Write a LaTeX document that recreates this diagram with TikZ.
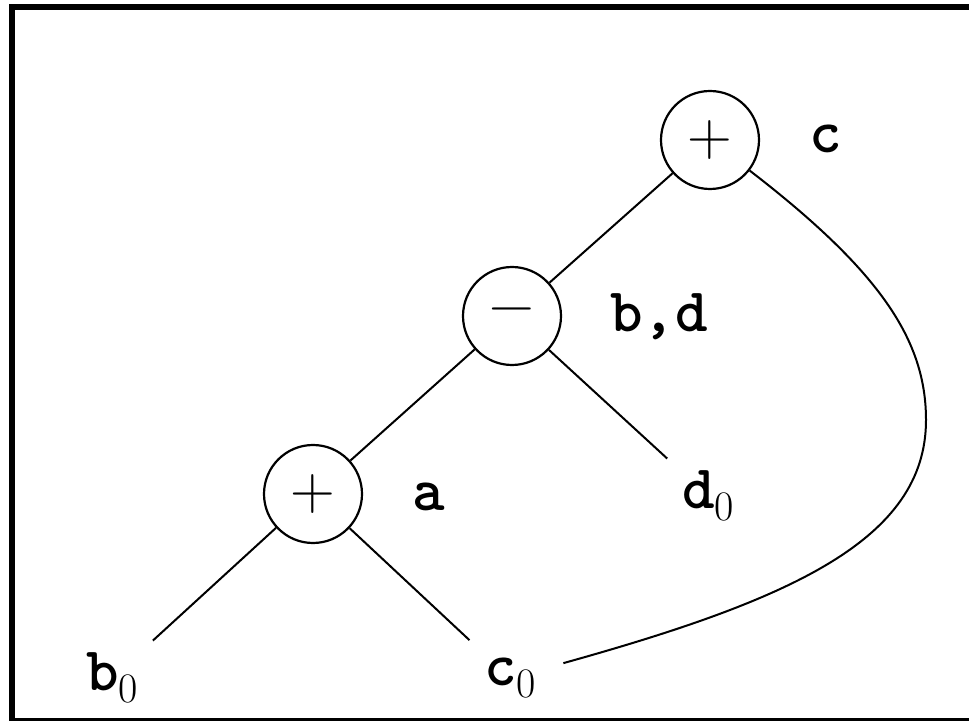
\documentclass[tikz,border=0pt]{standalone}
\begin{document}
\begin{tikzpicture}[x=0.5pt,y=-0.5pt,
  opnode/.style={circle,draw,line width=1.1pt,minimum size=49pt,inner sep=0pt,
    font=\fontsize{31}{37}\selectfont\rmfamily},
  leaf/.style={circle,inner sep=0pt,minimum size=55pt,
    font=\fontsize{31}{37}\selectfont\ttfamily\bfseries},
  tag/.style={anchor=base,inner sep=0pt,font=\fontsize{31}{37}\selectfont\ttfamily\bfseries}, 
  edge/.style={line width=1pt}]
\newcommand\subzero{\raisebox{-6pt}{\fontsize{21}{25}\selectfont\rmfamily\mdseries 0}}
\useasboundingbox (0,0) rectangle (969,721);

% frame
\fill (9,4) rectangle (969,10);
\fill (9,4) rectangle (15,721);
\fill (9,718) rectangle (969,721);

% operator nodes
\node[opnode] (pt) at (710,140) {+};
\node[opnode] (pm) at (512,316) {−};
\node[opnode] (pa) at (313,494) {+};

% leaves
\node[leaf] (b0) at (112,678) {b\subzero};
\node[leaf] (c0) at (510,678) {c\subzero};
\node[leaf] (d0) at (708,496) {d\subzero};

% attached names
\node[tag] (lc)  at (826,153) {c};
\node[tag] (lbd) at (659,332) {b,d};
\node[tag] (la)  at (429,510) {a};

% edges
\draw[edge] (pa) -- (b0);
\draw[edge] (pa) -- (c0);
\draw[edge] (pa) -- (pm);
\draw[edge] (pm) -- (d0);
\draw[edge] (pm) -- (pt);
\coordinate (bend) at (926,420);
\draw[edge] (pt) .. controls (880,271) and (926,340) .. (bend)
                 .. controls (926,540) and (790,600) .. (c0);
\end{tikzpicture}
\end{document}
